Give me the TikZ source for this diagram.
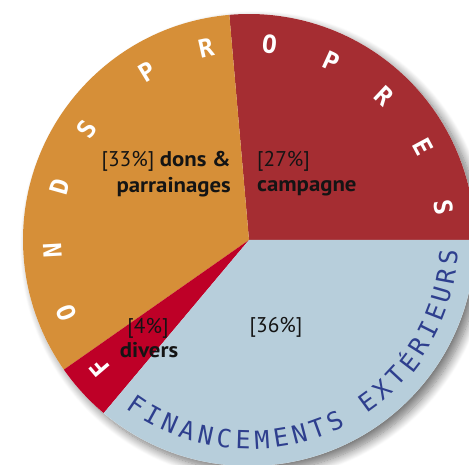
\documentclass[tikz,border=0pt]{standalone}
\usepackage{fontspec}
\setmainfont{PT Sans}[BoldFeatures={FakeStretch=1.07}]
\newfontfamily\arcfont{DejaVu Sans Mono}
\usetikzlibrary{shadows.blur}
\definecolor{orangeS}{RGB}{214,143,56}
\definecolor{redS}{RGB}{165,45,50}
\definecolor{diversS}{RGB}{190,0,39}
\definecolor{blueS}{RGB}{183,206,219}
\definecolor{navyT}{RGB}{46,63,142}
\definecolor{labT}{RGB}{20,20,20}
\begin{document}
\begin{tikzpicture}[x=1pt,y=1pt,
  lab/.style={inner sep=0pt,text=labT,font=\fontsize{21.3}{25}\selectfont},
  whiteletter/.style={inner sep=0pt,text=white,font=\arcfont\bfseries\fontsize{25}{25}\selectfont},
  blueletter/.style={inner sep=0pt,text=navyT,font=\arcfont\fontsize{25}{25}\selectfont}]
\useasboundingbox (0,0) rectangle (469,465);
\coordinate (c) at (249,225);
\def\R{226}
\fill[white,blur shadow={shadow xshift=6pt,shadow yshift=-6pt,shadow blur radius=9pt,shadow blur steps=12,shadow opacity=55}] (c) circle (\R);
\fill[redS] (c) -- ++(0:\R) arc (0:95:\R) -- cycle;
\fill[orangeS] (c) -- ++(95:\R) arc (95:215:\R) -- cycle;
\fill[diversS] (c) -- ++(215:\R) arc (215:230:\R) -- cycle;
\fill[blueS] (c) -- ++(230:\R) arc (230:360:\R) -- cycle;
% FONDS PROPRES
\foreach \ch/\ang [count=\i] in {F/220.5,O/201.8,N/183.1,D/164.4,S/145.7,P/121.2,R/102.6,O/84,P/65.4,R/46.8,E/28.2,S/9.6}{
  \node[whiteletter,rotate=\ang-90] (fp\i) at ($(c)+(\ang:197)$) {\ch};
}
% FINANCEMENTS EXTERIEURS
\foreach \ch [count=\i] in {F,I,N,A,N,C,E,M,E,N,T,S,{},E,X,T,É,R,I,E,U,R,S}{
  \pgfmathsetmacro{\ang}{235.8+(\i-1)*5.42}
  \node[blueletter,rotate=\ang+90] (fe\i) at ($(c)+(\ang:200)$) {\ch};
}
\node[lab,anchor=base east] (l33a) at (231,298.3) {[33\%] \textbf{dons \&}};
\node[lab,anchor=base east] (l33b) at (231,272) {\textbf{parrainages}};
\node[lab,anchor=base west] (l27a) at (257,298.3) {[27\%]};
\node[lab,anchor=base west] (l27b) at (257,273.3) {\textbf{campagne}};
\node[lab,anchor=base] (l4a) at (148,131) {[4\%]};
\node[lab,anchor=base] (l4b) at (149,107) {\textbf{divers}};
\node[lab,anchor=base] (l36) at (276,132) {[36\%]};
\end{tikzpicture}
\end{document}
